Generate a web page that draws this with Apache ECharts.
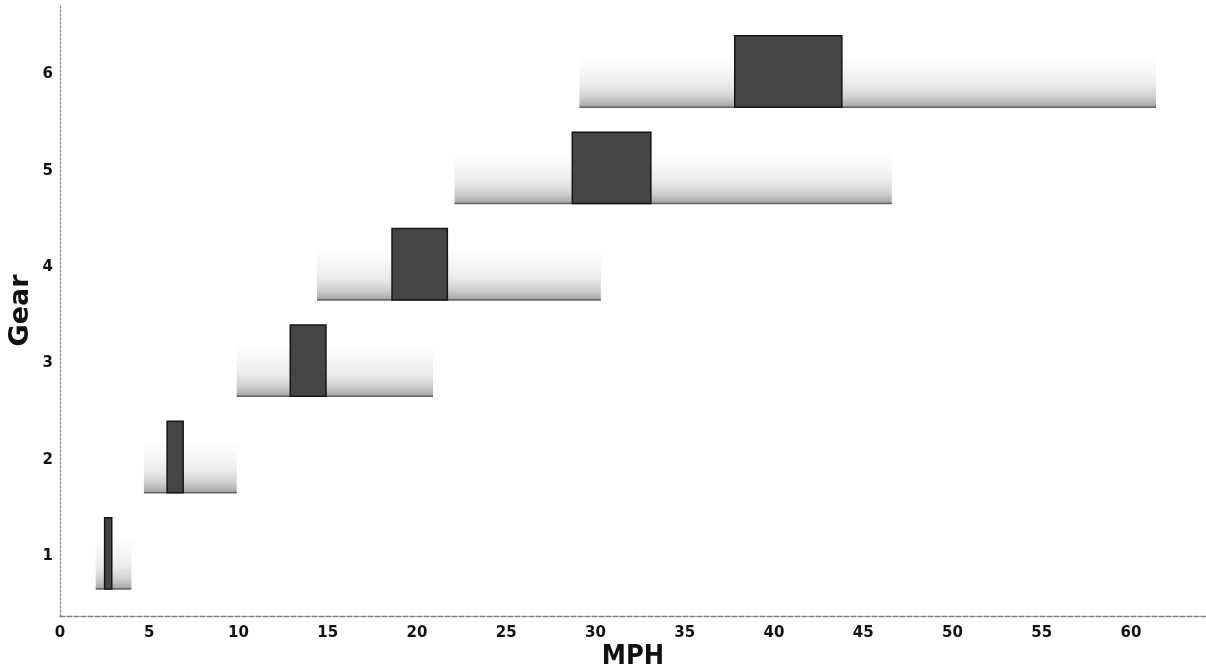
<!DOCTYPE html>
<html>
<head>
<meta charset="utf-8">
<script src="https://cdn.jsdelivr.net/npm/echarts@6/dist/echarts.min.js"></script>
<style>
html,body{margin:0;padding:0;background:#fff;}
#chart{width:1206px;height:672px;}
</style>
</head>
<body>
<div id="chart"></div>
<script>
// Data
const gears = [1, 2, 3, 4, 5, 6];
const rangeLow  = [2.0, 4.7, 9.9, 14.4, 22.1, 29.1];   // light stippled band start (MPH)
const rangeHigh = [4.0, 9.9, 20.9, 30.3, 46.6, 61.4];  // light stippled band end (MPH)
const cruiseLow  = [2.5, 6.0, 12.9, 18.6, 28.7, 37.8]; // dark block start (MPH)
const cruiseHigh = [2.9, 6.9, 14.9, 21.7, 33.1, 43.8]; // dark block end (MPH)
const xTicks = [0, 5, 10, 15, 20, 25, 30, 35, 40, 45, 50, 55, 60];

const rangeData = gears.map((g, i) => [g, rangeLow[i], rangeHigh[i]]);
const cruiseData = gears.map((g, i) => [g, cruiseLow[i], cruiseHigh[i]]);

const chart = echarts.init(document.getElementById('chart'), null, {renderer: 'canvas'});

const BOTTOM = 0.34, LIGHT_TOP = 0.2, DARK_TOP = 0.4;

function renderRange(params, api) {
  const g = api.value(0), lo = api.value(1), hi = api.value(2);
  const p0 = api.coord([lo, g - BOTTOM]);
  const p1 = api.coord([hi, g + LIGHT_TOP]);
  return {
    type: 'group',
    children: [
      {
        type: 'rect',
        shape: {x: p0[0], y: p1[1], width: p1[0] - p0[0], height: p0[1] - p1[1]},
        style: {
          fill: {
            type: 'linear', x: 0, y: 1, x2: 0, y2: 0,
            colorStops: [
              {offset: 0, color: 'rgba(70,70,70,0.5)'},
              {offset: 0.2, color: 'rgba(110,110,110,0.32)'},
              {offset: 0.45, color: 'rgba(140,140,140,0.17)'},
              {offset: 0.75, color: 'rgba(160,160,160,0.08)'},
              {offset: 1, color: 'rgba(180,180,180,0)'}
            ]
          }
        }
      },
      {
        type: 'line',
        shape: {x1: p0[0], y1: p0[1], x2: p1[0], y2: p0[1]},
        style: {stroke: 'rgba(60,60,60,0.75)', lineWidth: 1.5}
      }
    ]
  };
}

function renderCruise(params, api) {
  const g = api.value(0), lo = api.value(1), hi = api.value(2);
  const p0 = api.coord([lo, g - BOTTOM]);
  const p1 = api.coord([hi, g + DARK_TOP]);
  return {
    type: 'rect',
    shape: {x: p0[0], y: p1[1], width: p1[0] - p0[0], height: p0[1] - p1[1]},
    style: {fill: '#454545', stroke: '#151515', lineWidth: 1.5}
  };
}

const labelFont = {fontFamily: 'DejaVu Sans', fontWeight: 'bold', fontSize: 15, color: '#111'};

chart.setOption({
  animation: false,
  backgroundColor: '#ffffff',
  grid: {left: 60, right: 0, top: 5, bottom: 56, containLabel: false, outerBoundsMode: 'none'},
  xAxis: {
    type: 'value',
    min: 0,
    max: 64.2,
    interval: 5,
    name: 'MPH',
    nameLocation: 'middle',
    nameGap: 27,
    nameMoveOverlap: false,
    nameTextStyle: {fontFamily: 'DejaVu Sans Condensed', fontWeight: 'bold', fontSize: 27, color: '#111'},
    axisLine: {show: true, lineStyle: {color: '#808080', width: 1.3, type: [5, 2]}},
    axisTick: {show: false},
    splitLine: {show: false},
    axisLabel: Object.assign({
      margin: 10,
      formatter: v => (xTicks.indexOf(v) >= 0 ? String(v) : '')
    }, labelFont)
  },
  yAxis: {
    type: 'value',
    min: 0.38,
    max: 6.72,
    minInterval: 1,
    maxInterval: 1,
    name: 'Gear',
    nameLocation: 'middle',
    nameRotate: 90,
    nameGap: 26,
    nameMoveOverlap: false,
    nameTextStyle: {fontFamily: 'DejaVu Sans', fontWeight: 'bold', fontSize: 27, color: '#111'},
    axisLine: {show: true, lineStyle: {color: '#8a8a8a', width: 1.3, type: [2, 2]}},
    axisTick: {show: false},
    splitLine: {show: false},
    axisLabel: Object.assign({
      margin: 7,
      formatter: v => (gears.indexOf(v) >= 0 ? String(v) : '')
    }, labelFont)
  },
  series: [
    {type: 'custom', name: 'Range', renderItem: renderRange, data: rangeData, z: 2,
     encode: {x: [1, 2], y: 0}},
    {type: 'custom', name: 'Cruise', renderItem: renderCruise, data: cruiseData, z: 3,
     encode: {x: [1, 2], y: 0}}
  ]
});
</script>
</body>
</html>
